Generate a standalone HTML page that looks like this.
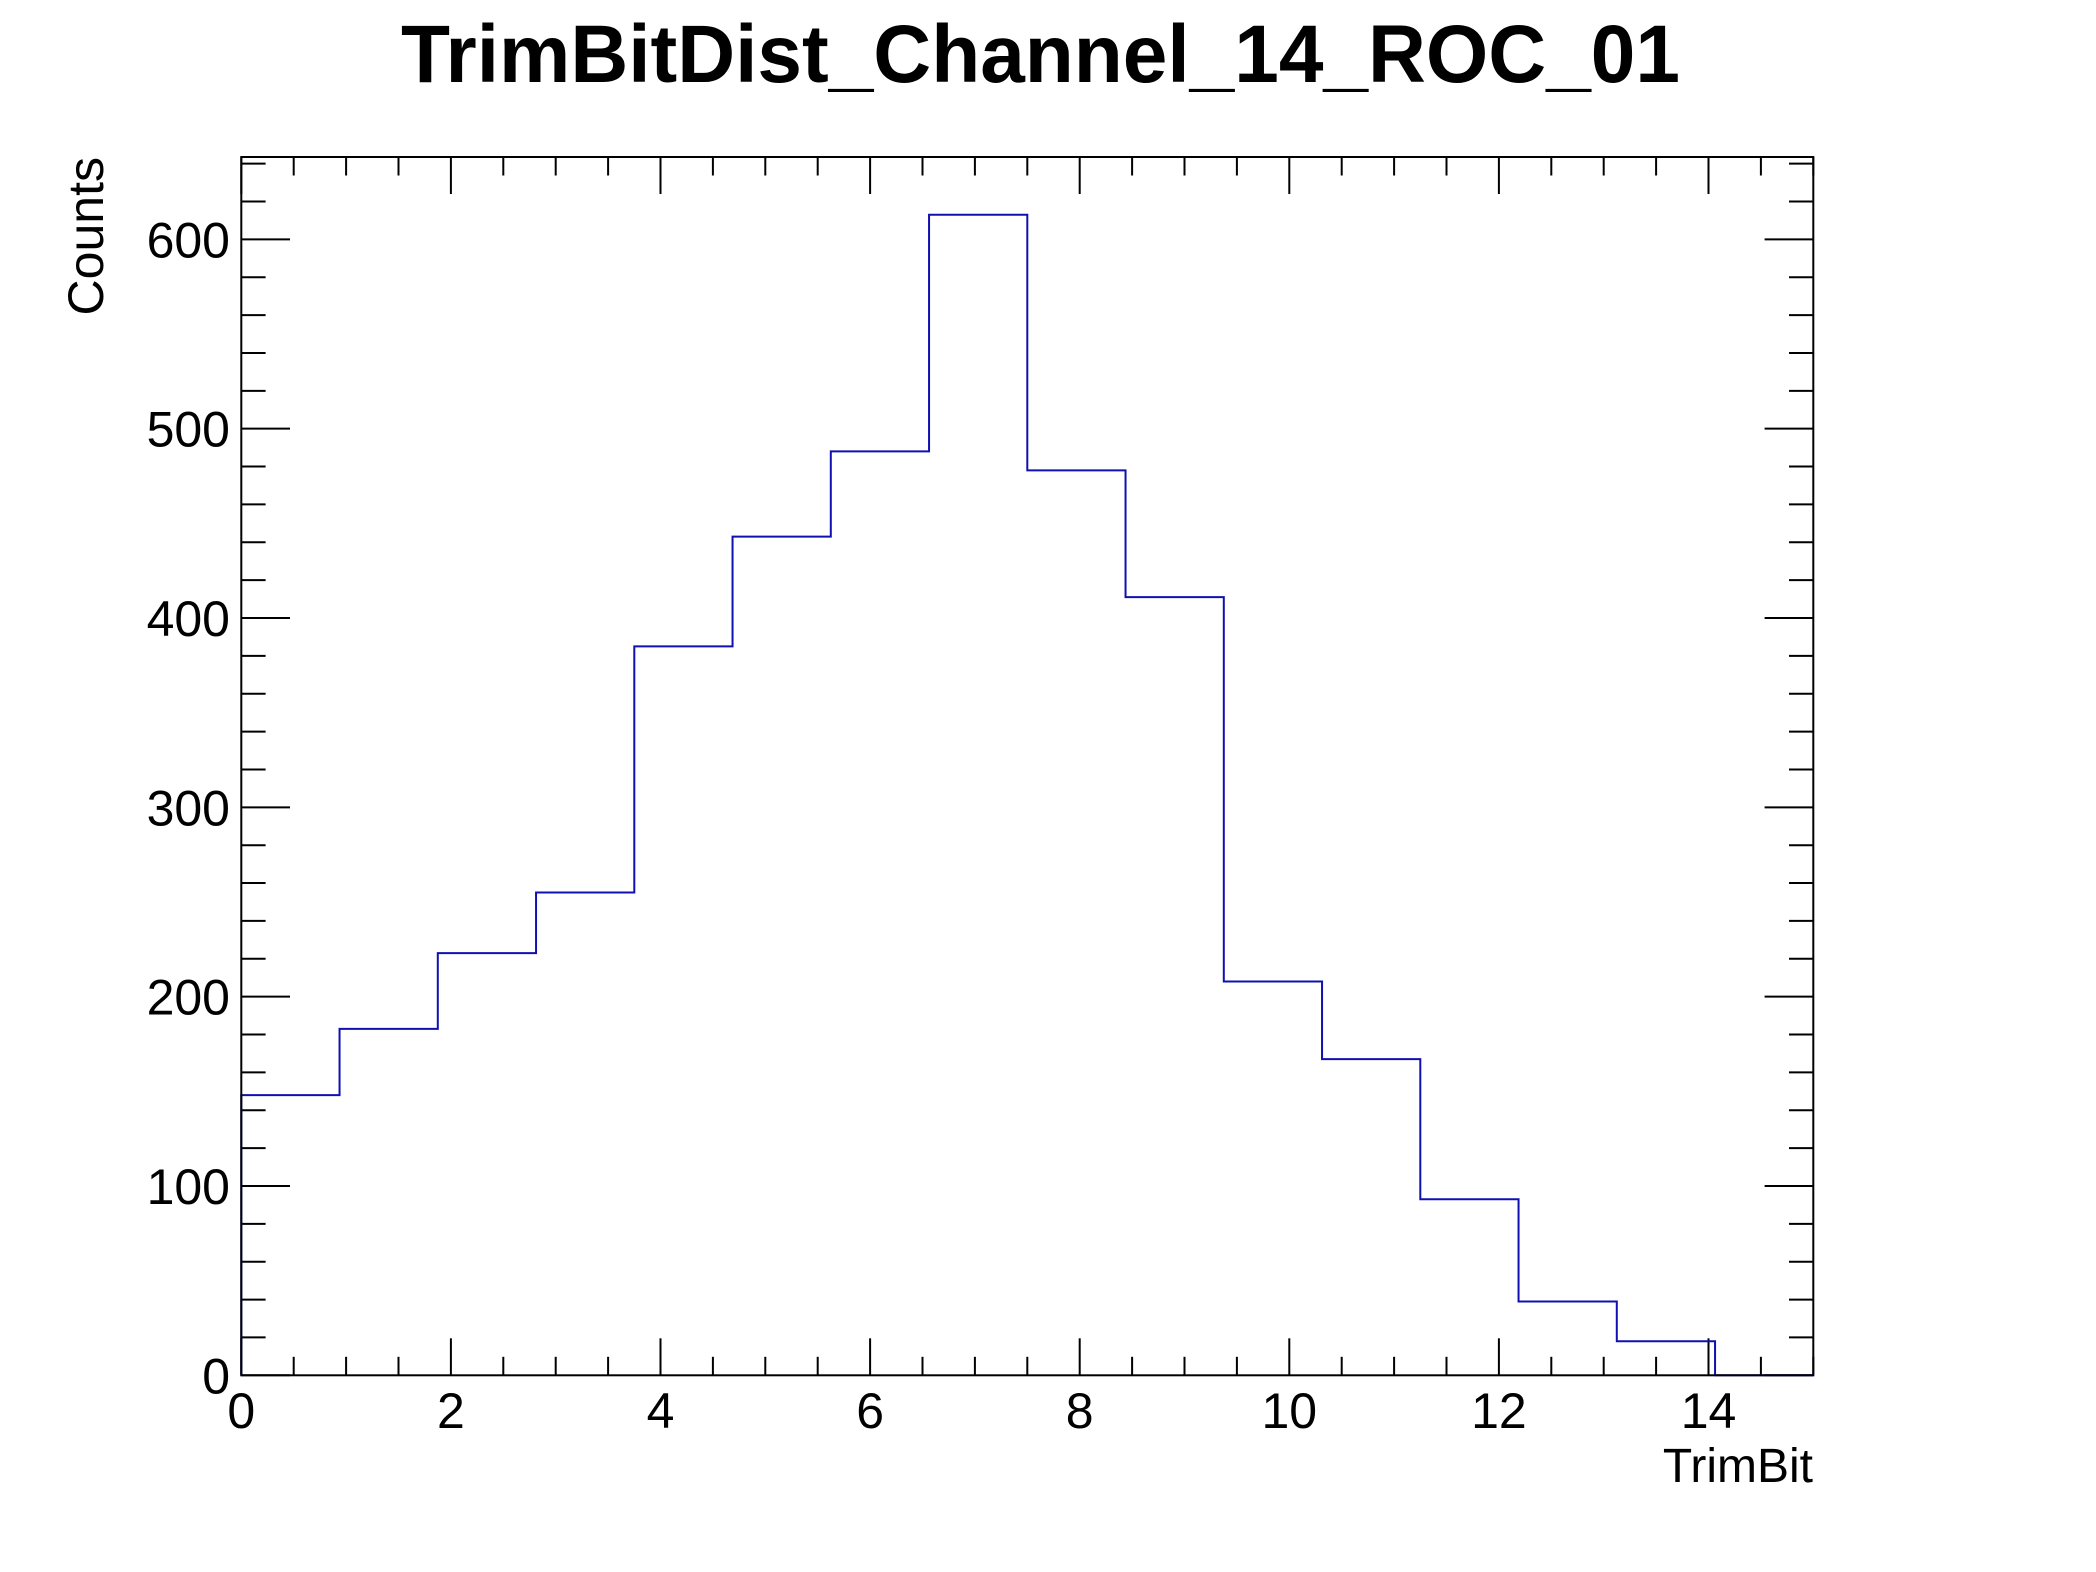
<!DOCTYPE html>
<html>
<head>
<meta charset="utf-8">
<style>
  html, body { margin: 0; padding: 0; background: #fff; }
  svg { display: block; }
  text { font-family: "Liberation Sans", Arial, sans-serif; fill: #000; }
</style>
</head>
<body>
<svg id="chart" width="2096" height="1572" viewBox="0 0 2096 1572" xmlns="http://www.w3.org/2000/svg">
  <rect x="0" y="0" width="2096" height="1572" fill="#fff"/>
  <text x="401" y="82" font-size="82" font-weight="bold" textLength="1279" lengthAdjust="spacingAndGlyphs">TrimBitDist_Channel_14_ROC_01</text>
  <g id="axes"></g>
  <g id="hist"></g>
  <rect x="241.3" y="157" width="1572" height="1218.3" fill="none" stroke="#000" stroke-width="2"/>
  <text x="1813" y="1482" font-size="48" text-anchor="end">TrimBit</text>
  <text transform="translate(103,157) rotate(-90)" font-size="50" text-anchor="end">Counts</text>
</svg>
<script>
const binCounts = [148, 183, 223, 255, 385, 443, 488, 613, 478, 411, 208, 167, 93, 39, 18, 0];
const binLow = 0;
const binHigh = 15;
const xTickLabels = ["0", "2", "4", "6", "8", "10", "12", "14"];
const xTickValues = [0, 2, 4, 6, 8, 10, 12, 14];
const yTickLabels = ["0", "100", "200", "300", "400", "500", "600"];
const yTickValues = [0, 100, 200, 300, 400, 500, 600];

const NS = "http://www.w3.org/2000/svg";
const L = 241.3, R = 1813.3, T = 157, B = 1375.3;
const xMin = 0, xMax = 15, yMin = 0, yMax = 643.5;
function xs(v) { return L + (v - xMin) / (xMax - xMin) * (R - L); }
function ys(v) { return B - (v - yMin) / (yMax - yMin) * (B - T); }

const axes = document.getElementById('axes');
function line(x1, y1, x2, y2, name, color, w) {
  const l = document.createElementNS(NS, 'line');
  l.setAttribute('x1', x1); l.setAttribute('y1', y1);
  l.setAttribute('x2', x2); l.setAttribute('y2', y2);
  l.setAttribute('stroke', color || '#000');
  l.setAttribute('stroke-width', w || 2);
  
  
  axes.appendChild(l);
}
function label(x, y, s, anchor, name) {
  const t = document.createElementNS(NS, 'text');
  t.setAttribute('x', x); t.setAttribute('y', y);
  t.setAttribute('font-size', '50');
  t.setAttribute('text-anchor', anchor);
  t.textContent = s;
  
  
  axes.appendChild(t);
}
// x ticks: minor every 0.5, major every 2
for (let k = 0; k <= 30; k++) {
  const v = k * 0.5;
  const major = (k % 4 === 0);
  const x = xs(v);
  const len = major ? 37 : 18.5;
  line(x, B, x, B - len, major ? 'x-major-tick' : 'x-minor-tick');
  line(x, T, x, T + len, major ? 'x-top-major-tick' : 'x-top-minor-tick');
}
xTickValues.forEach((v, i) => label(xs(v), 1428, xTickLabels[i], 'middle', 'x-tick-label'));
// y ticks: minor every 20, major every 100
for (let k = 0; k * 20 <= yMax; k++) {
  const v = k * 20;
  const major = (k % 5 === 0);
  const y = ys(v);
  const len = major ? 48.7 : 24.3;
  line(L, y, L + len, y, major ? 'y-major-tick' : 'y-minor-tick');
  line(R, y, R - len, y, major ? 'y-right-major-tick' : 'y-right-minor-tick');
}
yTickValues.forEach((v, i) => label(230, ys(v) + 18, yTickLabels[i], 'end', 'y-tick-label'));

// histogram step line
const hist = document.getElementById('hist');
const n = binCounts.length;
const w = (binHigh - binLow) / n;
let d = 'M' + xs(binLow) + ',' + ys(0);
for (let i = 0; i < n; i++) {
  const x0 = xs(binLow + i * w), x1 = xs(binLow + (i + 1) * w), y = ys(binCounts[i]);
  d += ' L' + x0 + ',' + y + ' L' + x1 + ',' + y;
}
d += ' L' + xs(binHigh) + ',' + ys(0);
const p = document.createElementNS(NS, 'path');
p.setAttribute('d', d);
p.setAttribute('fill', 'none');
p.setAttribute('stroke', '#1010b0');
p.setAttribute('stroke-width', '2');


hist.appendChild(p);
</script>
</body>
</html>
